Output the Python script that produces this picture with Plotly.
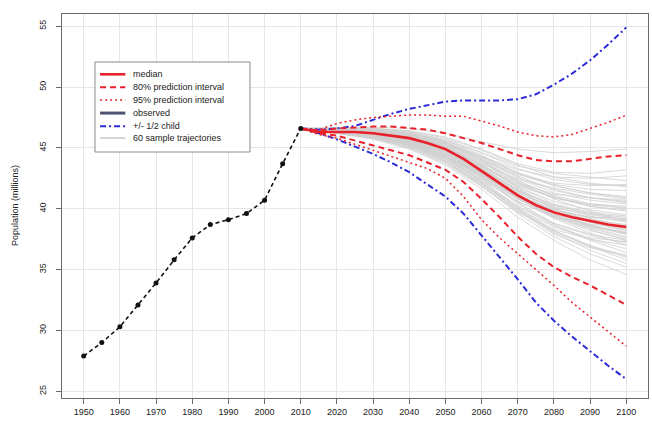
import plotly.graph_objects as go

# ---- observed population (millions), 5-year steps ----
obs_years = [1950, 1955, 1960, 1965, 1970, 1975, 1980, 1985, 1990, 1995, 2000, 2005, 2010]
obs_pop = [27.9, 29.0, 30.3, 32.1, 33.9, 35.8, 37.6, 38.7, 39.1, 39.6, 40.7, 43.7, 46.6]

# ---- projections, 5-year steps 2010-2100 ----
proj_years = list(range(2010, 2101, 5))
median = [46.6, 46.3, 46.3, 46.3, 46.2, 46.0, 45.8, 45.4, 44.9, 44.1, 43.1, 42.1, 41.1,
          40.3, 39.7, 39.3, 39.0, 38.7, 38.5]
pi80_high = [46.6, 46.4, 46.6, 46.7, 46.75, 46.75, 46.6, 46.5, 46.2, 45.8, 45.4, 44.9, 44.4,
             44.0, 43.9, 43.9, 44.1, 44.3, 44.4]
pi80_low = [46.6, 46.2, 46.0, 45.6, 45.2, 44.8, 44.4, 43.8, 43.2, 42.2, 40.8, 39.3, 37.7,
            36.3, 35.2, 34.4, 33.7, 32.9, 32.1]
pi95_high = [46.6, 46.5, 47.0, 47.3, 47.5, 47.6, 47.7, 47.7, 47.6, 47.6, 47.2, 46.8, 46.3,
             46.0, 45.9, 46.1, 46.6, 47.1, 47.7]
pi95_low = [46.6, 46.1, 45.8, 45.3, 44.8, 44.3, 43.8, 43.3, 42.5, 41.0, 39.1, 37.6, 36.3,
            35.0, 33.7, 32.3, 31.1, 29.9, 28.7]
half_child_high = [46.6, 46.5, 46.6, 46.8, 47.3, 47.8, 48.2, 48.5, 48.8, 48.9, 48.9, 48.9, 49.0,
                   49.4, 50.2, 51.1, 52.2, 53.5, 54.9]
half_child_low = [46.6, 46.2, 45.7, 45.1, 44.5, 43.8, 43.0, 42.0, 41.0, 39.6, 37.8, 36.0, 34.2,
                  32.3, 30.8, 29.5, 28.3, 27.1, 26.0]

# ---- sample trajectories, 10-year steps 2010-2100 ----
traj_years = list(range(2010, 2101, 10))
trajectories = [
    [46.6, 46.6, 46.7, 46.6, 46.2, 45.5, 44.9, 44.6, 44.7, 44.9],
    [46.6, 46.5, 46.4, 46.1, 45.4, 44.3, 43.2, 42.6, 42.5, 42.7],
    [46.6, 46.4, 46.2, 45.8, 45.0, 43.6, 42.1, 41.2, 40.9, 40.6],
    [46.6, 46.5, 46.3, 45.9, 45.2, 43.9, 42.3, 41.0, 40.2, 39.8],
    [46.6, 46.4, 46.1, 45.6, 44.7, 43.2, 41.5, 40.3, 39.6, 39.1],
    [46.6, 46.5, 46.3, 45.8, 44.9, 43.4, 41.4, 39.8, 38.9, 38.4],
    [46.6, 46.4, 46.2, 45.7, 44.8, 43.0, 41.0, 39.5, 38.7, 38.0],
    [46.6, 46.3, 46.0, 45.4, 44.4, 42.7, 40.8, 39.4, 38.4, 37.6],
    [46.6, 46.4, 46.1, 45.5, 44.5, 42.9, 40.9, 39.2, 38.0, 37.0],
    [46.6, 46.5, 46.4, 46.0, 45.1, 43.6, 41.8, 40.4, 39.7, 39.4],
    [46.6, 46.3, 45.9, 45.2, 44.1, 42.3, 40.2, 38.6, 37.4, 36.4],
    [46.6, 46.4, 46.0, 45.3, 44.2, 42.4, 40.1, 38.2, 36.9, 35.8],
    [46.6, 46.2, 45.8, 45.1, 43.9, 41.9, 39.6, 37.7, 36.3, 35.2],
    [46.6, 46.6, 46.6, 46.3, 45.6, 44.4, 43.0, 42.0, 41.6, 41.5],
    [46.6, 46.5, 46.5, 46.2, 45.5, 44.1, 42.6, 41.5, 40.9, 40.7],
    [46.6, 46.3, 45.9, 45.2, 43.9, 42.0, 39.9, 38.2, 37.0, 36.0],
    [46.6, 46.4, 46.1, 45.6, 44.6, 42.8, 40.5, 38.8, 37.8, 37.2],
    [46.6, 46.5, 46.2, 45.7, 44.9, 43.5, 41.9, 40.9, 40.3, 40.1],
    [46.6, 46.6, 46.5, 46.1, 45.3, 44.0, 42.8, 42.1, 41.9, 42.0],
    [46.6, 46.2, 45.7, 44.9, 43.6, 41.6, 39.3, 37.4, 35.8, 34.6],
    [46.6, 46.4, 46.0, 45.4, 44.3, 42.5, 40.6, 39.3, 38.7, 38.6],
    [46.6, 46.5, 46.4, 46.1, 45.4, 44.0, 42.2, 40.8, 39.8, 39.0],
    [46.6, 46.3, 45.9, 45.3, 44.4, 42.8, 41.0, 39.9, 39.3, 39.2],
    [46.6, 46.6, 46.6, 46.4, 45.9, 44.9, 43.7, 43.0, 42.9, 43.2],
    [46.6, 46.4, 46.1, 45.5, 44.3, 42.2, 39.8, 37.9, 36.8, 36.1],
    [46.6, 46.5, 46.3, 45.8, 44.9, 43.2, 41.2, 39.6, 38.5, 37.7],
    [46.6, 46.3, 45.9, 45.3, 44.2, 42.6, 40.8, 39.7, 39.0, 38.2],
    [46.6, 46.5, 46.4, 45.9, 45.0, 43.7, 42.4, 41.7, 41.2, 40.8],
    [46.6, 46.2, 45.8, 45.0, 43.7, 41.8, 39.7, 38.3, 37.5, 37.0],
    [46.6, 46.6, 46.5, 46.2, 45.6, 44.6, 43.5, 42.9, 42.6, 42.3],
    [46.6, 46.5, 46.3, 45.9, 45.0, 43.4, 41.6, 40.2, 39.4, 38.9],
    [46.6, 46.4, 46.2, 45.7, 44.7, 43.1, 41.2, 39.8, 39.1, 38.7],
    [46.6, 46.3, 46.0, 45.5, 44.6, 43.0, 41.1, 39.7, 38.7, 37.9],
    [46.6, 46.6, 46.5, 46.0, 45.2, 43.8, 42.1, 40.9, 40.2, 39.9],
    [46.6, 46.4, 46.1, 45.5, 44.4, 42.6, 40.4, 38.7, 37.5, 36.7],
    [46.6, 46.5, 46.4, 46.0, 45.3, 44.2, 42.9, 41.9, 41.3, 41.0],
    [46.6, 46.3, 45.9, 45.2, 44.0, 42.1, 40.0, 38.5, 37.6, 37.3],
    [46.6, 46.4, 46.2, 45.8, 44.9, 43.5, 41.8, 40.6, 39.9, 39.5],
    [46.6, 46.5, 46.2, 45.6, 44.6, 42.9, 40.9, 39.4, 38.3, 37.4],
    [46.6, 46.4, 46.0, 45.3, 44.1, 42.2, 40.0, 38.0, 36.6, 35.5],
    [46.6, 46.6, 46.6, 46.3, 45.7, 44.6, 43.3, 42.4, 42.0, 41.9],
    [46.6, 46.5, 46.3, 45.8, 44.8, 43.2, 41.4, 40.0, 39.2, 38.6],
    [46.6, 46.3, 45.9, 45.3, 44.3, 42.8, 41.1, 39.8, 38.9, 38.3],
    [46.6, 46.4, 46.1, 45.6, 44.8, 43.5, 42.0, 40.9, 40.4, 40.2],
    [46.6, 46.2, 45.8, 45.1, 43.9, 42.1, 40.2, 38.8, 37.9, 37.4],
    [46.6, 46.5, 46.4, 46.0, 45.1, 43.6, 41.7, 40.1, 38.9, 38.1],
    [46.6, 46.4, 46.2, 45.7, 44.7, 43.0, 41.0, 39.3, 38.2, 37.5],
    [46.6, 46.5, 46.4, 46.0, 45.3, 44.0, 42.5, 41.3, 40.7, 40.4],
    [46.6, 46.3, 45.9, 45.2, 44.1, 42.4, 40.6, 39.3, 38.5, 38.0],
    [46.6, 46.6, 46.5, 46.2, 45.5, 44.3, 42.9, 41.9, 41.3, 40.9],
    [46.6, 46.4, 46.0, 45.4, 44.3, 42.7, 40.8, 39.5, 38.6, 37.9],
    [46.6, 46.5, 46.3, 45.8, 44.9, 43.3, 41.5, 40.3, 39.6, 39.3],
    [46.6, 46.3, 45.8, 45.0, 43.8, 41.9, 39.8, 38.1, 36.9, 36.2],
    [46.6, 46.5, 46.4, 46.1, 45.4, 44.2, 42.7, 41.6, 40.9, 40.5],
    [46.6, 46.4, 46.1, 45.6, 44.6, 43.0, 41.3, 40.1, 39.5, 39.1],
    [46.6, 46.4, 46.2, 45.7, 44.8, 43.3, 41.5, 40.0, 39.0, 38.4],
    [46.6, 46.6, 46.6, 46.4, 45.8, 44.8, 43.6, 42.6, 42.1, 41.8],
    [46.6, 46.3, 46.0, 45.4, 44.4, 42.8, 40.9, 39.5, 38.6, 38.0],
    [46.6, 46.5, 46.3, 45.9, 45.1, 43.8, 42.3, 41.1, 40.4, 40.0],
    [46.6, 46.4, 46.1, 45.5, 44.5, 42.9, 41.1, 39.9, 39.3, 39.0],
]

x_ticks = list(range(1950, 2101, 10))
y_ticks = [25, 30, 35, 40, 45, 50, 55]

legend_labels = ["median", "80% prediction interval", "95% prediction interval",
                 "observed", "+/- 1/2 child", "60 sample trajectories"]

RED = "#e8212b"
BLUE = "#2a2ad6"
GRAY = "#cfcfcf"
FONT = "Liberation Sans, Arial, sans-serif"

fig = go.Figure()

# sample trajectories
for traj in trajectories:
    fig.add_trace(go.Scatter(x=traj_years, y=traj, mode="lines",
                             line=dict(color=GRAY, width=0.8), hoverinfo="skip",
                             showlegend=False))

# +/- 1/2 child
for series in (half_child_high, half_child_low):
    fig.add_trace(go.Scatter(x=proj_years, y=series, mode="lines",
                             line=dict(color=BLUE, width=2, dash="6px,3px,2px,3px"),
                             showlegend=False))

# 95% interval
for series in (pi95_high, pi95_low):
    fig.add_trace(go.Scatter(x=proj_years, y=series, mode="lines",
                             line=dict(color=RED, width=1.5, dash="2px,3px"),
                             showlegend=False))

# 80% interval
for series in (pi80_high, pi80_low):
    fig.add_trace(go.Scatter(x=proj_years, y=series, mode="lines",
                             line=dict(color=RED, width=2, dash="6px,4px"),
                             showlegend=False))

# median
fig.add_trace(go.Scatter(x=proj_years, y=median, mode="lines",
                         line=dict(color=RED, width=2.6), showlegend=False))

# observed
fig.add_trace(go.Scatter(x=obs_years, y=obs_pop, mode="lines+markers",
                         line=dict(color="#111111", width=1.6, dash="4px,3px"),
                         marker=dict(color="#111111", size=5, symbol="circle"),
                         showlegend=False))

# ---- legend box (paper coordinates) ----
box = dict(x0=0.0563, x1=0.3208, y0=0.6406, y1=0.875)
shapes = [dict(type="rect", xref="paper", yref="paper", layer="above",
               fillcolor="white", line=dict(color="#8a8a8a", width=1), **box)]
row_y = [0.843, 0.809, 0.776, 0.742, 0.708, 0.677]
styles = [
    dict(color=RED, width=2.6),
    dict(color=RED, width=2, dash="6px,4px"),
    dict(color=RED, width=1.5, dash="2px,3px"),
    dict(color="#4d5370", width=3),
    dict(color=BLUE, width=2, dash="6px,3px,2px,3px"),
    dict(color="#9a9a9a", width=0.8),
]
annotations = []
for label, ry, st in zip(legend_labels, row_y, styles):
    shapes.append(dict(type="line", xref="paper", yref="paper", layer="above",
                       x0=0.065, x1=0.108, y0=ry, y1=ry, line=st))
    annotations.append(dict(text=label, xref="paper", yref="paper", x=0.117, y=ry,
                            xanchor="left", yanchor="middle", showarrow=False,
                            font=dict(size=9, color="#222222", family=FONT)))

annotations.append(dict(text="Population (millions)", xref="paper", yref="paper",
                        x=-0.08, y=0.5, textangle=-90, showarrow=False,
                        xanchor="center", yanchor="middle",
                        font=dict(size=9, color="#222222", family=FONT)))

axis_common = dict(showline=True, linecolor="#6b6b6b", linewidth=1.2, mirror=True,
                   ticks="outside", ticklen=5, tickcolor="#6b6b6b",
                   showgrid=True, gridcolor="#e6e6e6", gridwidth=1, zeroline=False,
                   tickfont=dict(size=9, color="#222222", family=FONT))

fig.update_layout(
    width=652, height=421,
    margin=dict(l=62, r=4, t=14, b=23),
    paper_bgcolor="white", plot_bgcolor="white",
    showlegend=False,
    shapes=shapes, annotations=annotations,
    xaxis=dict(range=[1944, 2106], tickvals=x_ticks, **axis_common),
    yaxis=dict(range=[24.45, 56.0], tickvals=y_ticks, tickangle=-90,
               ticklabelstandoff=6, **axis_common),
)

fig.write_html("out.html")
